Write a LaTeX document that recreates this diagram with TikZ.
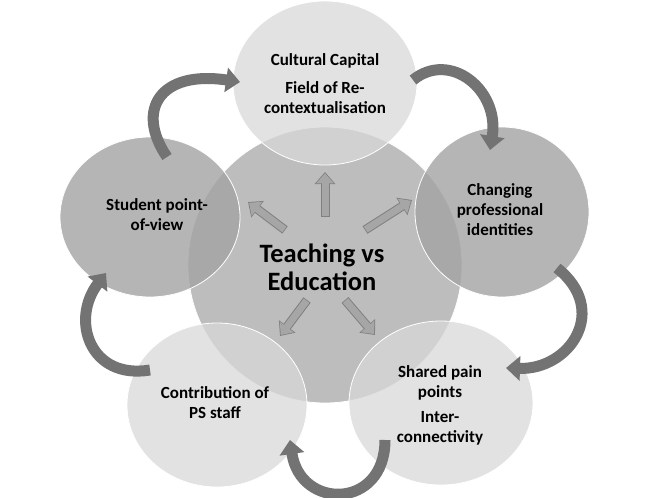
\documentclass[tikz,border=0pt]{standalone}
\usepackage{fontspec}
\setmainfont{Carlito}
\usetikzlibrary{arrows.meta}
\begin{document}
\begin{tikzpicture}[x=1pt,y=-1pt,
  circ/.style={draw=white,line width=0.8pt},
  lbl/.style={font=\bfseries\fontsize{17}{20}\selectfont,align=center},
  curv/.style={draw=black!55,line width=11pt,-{Triangle[width=24pt,length=14pt]}}]
\useasboundingbox (0,0) rectangle (656,498);
\fill[white] (0,0) rectangle (656,498);
% circles
\path[circ,fill=black!30,fill opacity=0.85] (325,265) ellipse (137 and 138);
\path[circ,fill=black!36,fill opacity=0.8] (150,217) ellipse (90 and 80);
\path[circ,fill=black!36,fill opacity=0.8] (502,212) ellipse (87 and 85);
\path[circ,fill=black!15,fill opacity=0.75] (325,83) ellipse (92 and 82);
\path[circ,fill=black!15,fill opacity=0.75] (217,405) ellipse (90 and 82);
\path[circ,fill=black!15,fill opacity=0.75] (441,403) ellipse (92 and 82);
% center node
\node[font=\bfseries\fontsize{26.5}{28}\selectfont,align=center] (c) at (322,267) {Teaching vs\\Education};
\node[lbl] (t1) at (325,61) {Cultural Capital};
\node[lbl] (t2) at (325,98) {Field of Re-\\contextualisation};
\node[lbl] (l) at (157,215) {Student point-\\of-view};
\node[lbl] (r) at (500,210) {Changing\\professional\\identities};
\node[lbl] (br1) at (440,383) {Shared pain\\points};
\node[lbl] (br2) at (440,428) {Inter-\\connectivity};
\node[lbl] (bl) at (215,403) {Contribution of\\PS staff};
% straight arrows
\coordinate (u0) at (325,217); \coordinate (u1) at (325,172);
\coordinate (ul0) at (285,230); \coordinate (ul1) at (248,202);
\coordinate (ur0) at (365,230); \coordinate (ur1) at (412,200);
\coordinate (dl0) at (307,300); \coordinate (dl1) at (280,336);
\coordinate (dr0) at (345,300); \coordinate (dr1) at (375,335);
\foreach \a in {u,ul,ur,dl,dr}{
  \draw[draw=black!50,line width=9pt,-{Triangle[width=20pt,length=12pt]}] (\a0) -- (\a1);
  \draw[draw=black!35,line width=7pt,shorten >=1.3pt,shorten <=0.8pt,-{Triangle[width=17pt,length=10pt]}] (\a0) -- (\a1);
}
% curved arrows
\coordinate (a1) at (167,157); \coordinate (a1e) at (240,82);
\draw[curv] (a1) .. controls (135,110) and (160,70) .. (a1e);
\coordinate (a2) at (413,80); \coordinate (a2e) at (490,150);
\draw[curv] (a2) .. controls (450,50) and (500,90) .. (a2e);
\coordinate (a3) at (557,268); \coordinate (a3e) at (506,368);
\draw[curv] (a3) .. controls (610,310) and (570,370) .. (a3e);
\coordinate (a4) at (385,440); \coordinate (a4e) at (290,440);
\draw[curv] (a4) .. controls (385,510) and (300,510) .. (a4e);
\coordinate (a5) at (150,370); \coordinate (a5e) at (106,273);
\draw[curv] (a5) .. controls (90,380) and (70,320) .. (a5e);
\end{tikzpicture}
\end{document}
